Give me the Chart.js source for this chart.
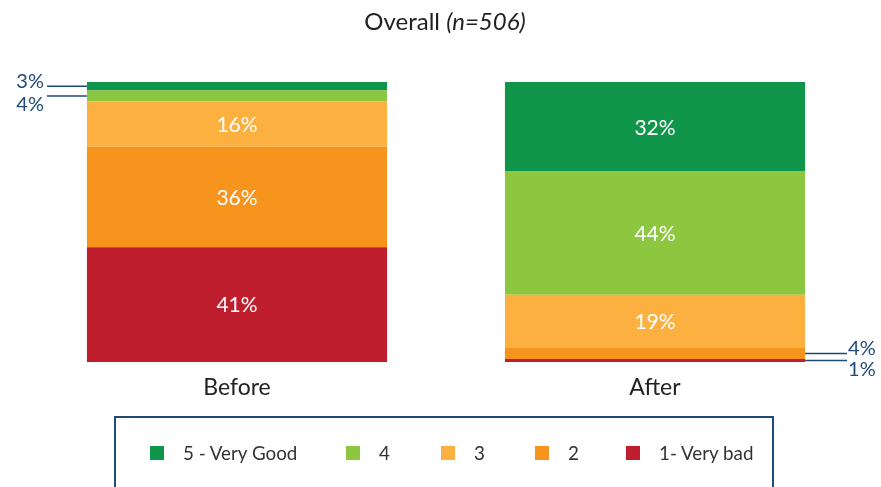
<!DOCTYPE html>
<html>
<head>
<meta charset="utf-8">
<script src="https://cdn.jsdelivr.net/npm/chart.js@4"></script>
<style>
  html, body { margin: 0; padding: 0; background: #fff; }
  #wrap { position: relative; width: 881px; height: 487px; overflow: hidden; }
  #legendBox {
    position: absolute; left: 114px; top: 416px; width: 660px; height: 90px;
    border: 2px solid #1f4a78; border-bottom: none; box-sizing: border-box;
    font-family: Lato, "Open Sans", sans-serif; font-size: 18.8px; color: #333;
  }
  .item { position: absolute; top: 23px; display: flex; align-items: center; }
  .sw { width: 14px; height: 14px; margin-right: 19px; }
</style>
</head>
<body>
<div id="wrap">
  <canvas id="chart" width="881" height="487"></canvas>
  <div id="legendBox"></div>
</div>
<script>
const categories = ["Before", "After"];

// от низа стопки к верху
const seriesNames = ["1- Very bad", "2", "3", "4", "5 - Very Good"];
const seriesColors = ["#be1e2d", "#f7941d", "#fbb040", "#8dc63f", "#10964a"];
const veryBad = [41, 1];
const bad = [36, 4];
const neutral = [16, 19];
const good = [4, 44];
const veryGood = [3, 32];

const titleMain = "Overall ";
const titleItalic = "(n=506)";

const FONT = 'Lato, "Open Sans", sans-serif';
const calloutColor = "#1f4a78";

const seriesValues = [veryBad, bad, neutral, good, veryGood];

// подписи внутри сегментов + выноски для маленьких
const labelsPlugin = {
  id: "segLabels",
  afterDatasetsDraw(chart) {
    const ctx = chart.ctx;
    const y = chart.scales.y;
    ctx.save();
    categories.forEach((cat, i) => {
      let base = 0;
      const small = [];
      chart.data.datasets.forEach((ds, d) => {
        const v = ds.data[i];
        const bar = chart.getDatasetMeta(d).data[i];
        const mid = y.getPixelForValue(base + v / 2);
        base += v;
        if (v >= 10) {
          ctx.fillStyle = "#fff";
          ctx.font = "21px " + FONT;
          ctx.textAlign = "center";
          ctx.textBaseline = "middle";
          ctx.fillText(v + "%", bar.x, mid + 1);
        } else {
          small.push({ v, mid, bar });
        }
      });
      // сверху вниз
      small.sort((a, b) => a.mid - b.mid);
      small.forEach((s, k) => {
        const off = k === 0 ? -5 : 9;
        const left = i === 0;
        const edge = left ? s.bar.x - s.bar.width / 2 : s.bar.x + s.bar.width / 2;
        const end = left ? edge - 40 : edge + 42;
        ctx.strokeStyle = calloutColor;
        ctx.lineWidth = 1.5;
        ctx.beginPath();
        ctx.moveTo(edge, s.mid);
        ctx.lineTo(end, s.mid);
        ctx.stroke();
        ctx.fillStyle = calloutColor;
        ctx.font = "20px " + FONT;
        ctx.textBaseline = "middle";
        ctx.textAlign = left ? "right" : "left";
        ctx.fillText(s.v + "%", left ? end - 3 : end + 1, s.mid + off);
      });
    });
    ctx.restore();
  },
};

const titlePlugin = {
  id: "mixedTitle",
  afterDraw(chart) {
    const ctx = chart.ctx;
    ctx.save();
    ctx.fillStyle = "#222";
    ctx.textBaseline = "middle";
    ctx.font = "24px " + FONT;
    const w1 = ctx.measureText(titleMain).width;
    ctx.font = "italic 24px " + FONT;
    const w2 = ctx.measureText(titleItalic).width;
    const x0 = 445 - (w1 + w2) / 2;
    ctx.textAlign = "left";
    ctx.font = "24px " + FONT;
    ctx.fillText(titleMain, x0, 22);
    ctx.font = "italic 24px " + FONT;
    ctx.fillText(titleItalic, x0 + w1, 22);
    ctx.restore();
  },
};

const chart = new Chart(document.getElementById("chart"), {
  type: "bar",
  data: {
    labels: categories,
    datasets: seriesNames.map((name, i) => ({
      label: name,
      data: seriesValues[i],
      backgroundColor: seriesColors[i],
      borderWidth: 0,
      barPercentage: 0.718,
      categoryPercentage: 1,
    })),
  },
  options: {
    responsive: false,
    animation: false,
    layout: { padding: { left: 28, right: 17, top: 82, bottom: 81.5 } },
    plugins: {
      legend: { display: false },
      tooltip: { enabled: false },
      title: { display: false },
    },
    scales: {
      x: {
        stacked: true,
        grid: { display: false },
        border: { display: false },
        ticks: { color: "#222", font: { family: FONT, size: 23 }, padding: 4 },
      },
      y: { stacked: true, display: false, min: 0, max: 100 },
    },
  },
  plugins: [labelsPlugin, titlePlugin],
});

// легенда в рамке, порядок от 5 к 1
const legendBox = document.getElementById("legendBox");
const legendX = [34, 230, 325, 419, 510];
seriesNames
  .map((n, i) => ({ n, c: seriesColors[i] }))
  .reverse()
  .forEach((it, k) => {
    const el = document.createElement("div");
    el.className = "item";
    el.style.left = legendX[k] + "px";
    el.innerHTML = `<div class="sw" style="background:${it.c}"></div><span>${it.n}</span>`;
    legendBox.appendChild(el);
  });
</script>
</body>
</html>
